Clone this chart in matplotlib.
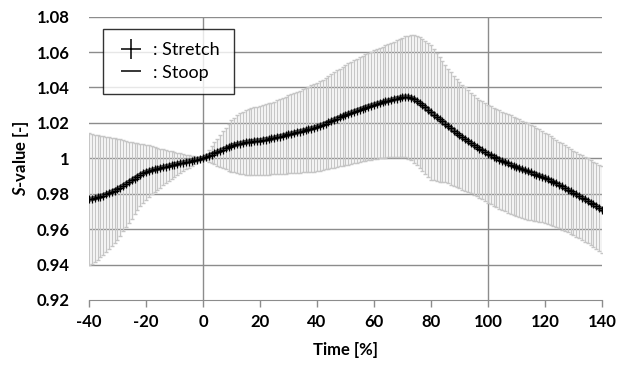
import matplotlib
matplotlib.use("Agg")
import matplotlib.pyplot as plt
from matplotlib.lines import Line2D

plt.rcParams['font.family'] = ['Lato', 'DejaVu Sans']
plt.rcParams['font.weight'] = 'bold'
plt.rcParams['axes.unicode_minus'] = False
plt.rcParams['mathtext.fontset'] = 'custom'
plt.rcParams['mathtext.bfit'] = 'Lato:italic:bold'

# normalised time [%], one sample per percent
time = list(range(-40, 141))

# mean S-value
s_mean = [
    0.9768, 0.9771, 0.9775, 0.9779, 0.9784, 0.9790, 0.9796, 0.9803, 0.9810, 0.9817, 0.9825,
    0.9835, 0.9845, 0.9855, 0.9865, 0.9875, 0.9886, 0.9896, 0.9906, 0.9915, 0.9922,
    0.9928, 0.9933, 0.9937, 0.9941, 0.9945, 0.9949, 0.9953, 0.9957, 0.9961, 0.9965,
    0.9968, 0.9972, 0.9975, 0.9979, 0.9982, 0.9986, 0.9990, 0.9993, 0.9997, 1.0000,
    1.0007, 1.0014, 1.0021, 1.0028, 1.0035, 1.0042, 1.0049, 1.0056, 1.0063, 1.0070,
    1.0075, 1.0079, 1.0083, 1.0087, 1.0090, 1.0093, 1.0095, 1.0097, 1.0099, 1.0100,
    1.0103, 1.0106, 1.0109, 1.0112, 1.0115, 1.0119, 1.0123, 1.0127, 1.0131, 1.0135,
    1.0139, 1.0143, 1.0147, 1.0151, 1.0155, 1.0159, 1.0163, 1.0168, 1.0172, 1.0177,
    1.0183, 1.0189, 1.0196, 1.0203, 1.0210, 1.0217, 1.0224, 1.0231, 1.0238, 1.0245,
    1.0251, 1.0257, 1.0263, 1.0269, 1.0275, 1.0281, 1.0287, 1.0292, 1.0297, 1.0302,
    1.0307, 1.0312, 1.0316, 1.0321, 1.0325, 1.0329, 1.0333, 1.0337, 1.0341, 1.0345,
    1.0347, 1.0346, 1.0342, 1.0335, 1.0325, 1.0313, 1.0300, 1.0288, 1.0274, 1.0260,
    1.0247, 1.0234, 1.0221, 1.0208, 1.0195, 1.0182, 1.0169, 1.0156, 1.0143, 1.0130,
    1.0119, 1.0108, 1.0097, 1.0086, 1.0075, 1.0065, 1.0055, 1.0045, 1.0035, 1.0025,
    1.0017, 1.0009, 1.0001, 0.9993, 0.9985, 0.9978, 0.9971, 0.9964, 0.9957, 0.9950,
    0.9944, 0.9938, 0.9932, 0.9926, 0.9920, 0.9914, 0.9908, 0.9902, 0.9896, 0.9890,
    0.9882, 0.9874, 0.9866, 0.9858, 0.9850, 0.9841, 0.9832, 0.9823, 0.9814, 0.9805,
    0.9796, 0.9787, 0.9778, 0.9769, 0.9760, 0.9750, 0.9740, 0.9730, 0.9720, 0.9710,
]

# half-width of the error bars (SD)
s_sd = [
    0.0373, 0.0366, 0.0359, 0.0351, 0.0343, 0.0335, 0.0326, 0.0316, 0.0306, 0.0296, 0.0285,
    0.0272, 0.0258, 0.0244, 0.0229, 0.0215, 0.0202, 0.0189, 0.0177, 0.0166, 0.0155,
    0.0146, 0.0137, 0.0128, 0.0119, 0.0110, 0.0102, 0.0094, 0.0086, 0.0078, 0.0070,
    0.0063, 0.0056, 0.0049, 0.0042, 0.0035, 0.0028, 0.0021, 0.0014, 0.0008, 0.0005,
    0.0018, 0.0033, 0.0048, 0.0062, 0.0076, 0.0090, 0.0104, 0.0118, 0.0132, 0.0145,
    0.0155, 0.0164, 0.0171, 0.0177, 0.0182, 0.0186, 0.0189, 0.0191, 0.0193, 0.0195,
    0.0197, 0.0199, 0.0201, 0.0203, 0.0205, 0.0208, 0.0211, 0.0214, 0.0217, 0.0220,
    0.0223, 0.0226, 0.0229, 0.0232, 0.0235, 0.0238, 0.0241, 0.0244, 0.0247, 0.0250,
    0.0253, 0.0256, 0.0259, 0.0262, 0.0265, 0.0269, 0.0272, 0.0276, 0.0280, 0.0283,
    0.0286, 0.0288, 0.0291, 0.0293, 0.0295, 0.0297, 0.0300, 0.0302, 0.0305, 0.0307,
    0.0310, 0.0312, 0.0315, 0.0317, 0.0320, 0.0323, 0.0326, 0.0329, 0.0332, 0.0335,
    0.0341, 0.0347, 0.0353, 0.0359, 0.0365, 0.0370, 0.0374, 0.0377, 0.0379, 0.0380,
    0.0372, 0.0362, 0.0352, 0.0341, 0.0330, 0.0323, 0.0317, 0.0311, 0.0305, 0.0300,
    0.0296, 0.0292, 0.0288, 0.0284, 0.0280, 0.0278, 0.0277, 0.0276, 0.0275, 0.0275,
    0.0276, 0.0277, 0.0278, 0.0278, 0.0278, 0.0278, 0.0278, 0.0278, 0.0278, 0.0278,
    0.0277, 0.0275, 0.0273, 0.0272, 0.0270, 0.0267, 0.0264, 0.0261, 0.0258, 0.0255,
    0.0253, 0.0251, 0.0249, 0.0247, 0.0245, 0.0244, 0.0242, 0.0241, 0.0239, 0.0238,
    0.0238, 0.0238, 0.0239, 0.0239, 0.0240, 0.0241, 0.0242, 0.0243, 0.0244, 0.0245,
]

x_ticks = [-40, -20, 0, 20, 40, 60, 80, 100, 120, 140]
y_ticks = [0.92, 0.94, 0.96, 0.98, 1.00, 1.02, 1.04, 1.06, 1.08]
y_ticklabels = ["0.92", "0.94", "0.96", "0.98", "1", "1.02", "1.04", "1.06", "1.08"]
phase_lines = [0, 100]

GRID = "#8c8c8c"
BAR = "#c6c6c6"

fig = plt.figure(figsize=(6.18, 3.67), dpi=100)
ax = fig.add_axes([0.144, 0.1826, 0.830, 0.772])

for v in y_ticks[1:]:
    ax.axhline(v, color=GRID, lw=1.0, zorder=0)
for v in phase_lines:
    ax.axvline(v, color=GRID, lw=1.0, zorder=0)

ax.errorbar(time, s_mean, yerr=s_sd, fmt="none", ecolor=BAR,
            elinewidth=1.0, capsize=1.6, capthick=1.0, zorder=2)
ax.plot(time, s_mean, color="#555555", lw=3.6, zorder=3)
ax.plot(time, s_mean, ls="none", marker="+", ms=5.5, mew=0.9, color="black", zorder=4)

ax.set_xlim(-40, 140)
ax.set_ylim(0.92, 1.08)
ax.set_xticks(x_ticks)
ax.set_xticklabels([str(t) for t in x_ticks])
ax.set_yticks(y_ticks)
ax.set_yticklabels(y_ticklabels)
for s in ("top", "right", "left"):
    ax.spines[s].set_visible(False)
ax.spines["bottom"].set_color(GRID)
ax.tick_params(axis="x", direction="out", length=5, color=GRID, width=1,
               labelsize=12, pad=5)
ax.tick_params(axis="y", length=0, labelsize=12, pad=14)

ax.set_xlabel("Time [%]", fontsize=12, fontweight="bold", labelpad=9)
ax.set_ylabel(r"$\mathbfit{S}$-value [-]", fontsize=12, fontweight="bold", labelpad=4)

handles = [Line2D([], [], ls="none", marker="+", ms=15, mew=1.1, color="black"),
           Line2D([], [], ls="none", marker="_", ms=15, mew=1.1, color="black")]
leg = ax.legend(handles, [": Stretch", ": Stoop"], loc="upper left",
                bbox_to_anchor=(0.027, 0.957), frameon=True,
                prop={"size": 13, "weight": "normal"},
                fancybox=False, edgecolor="black", handlelength=1.6,
                handletextpad=0.45, borderpad=0.75, labelspacing=0.35,
                borderaxespad=0)
leg.get_frame().set_linewidth(1.0)

fig.savefig("out.png", dpi=100, facecolor="white")
